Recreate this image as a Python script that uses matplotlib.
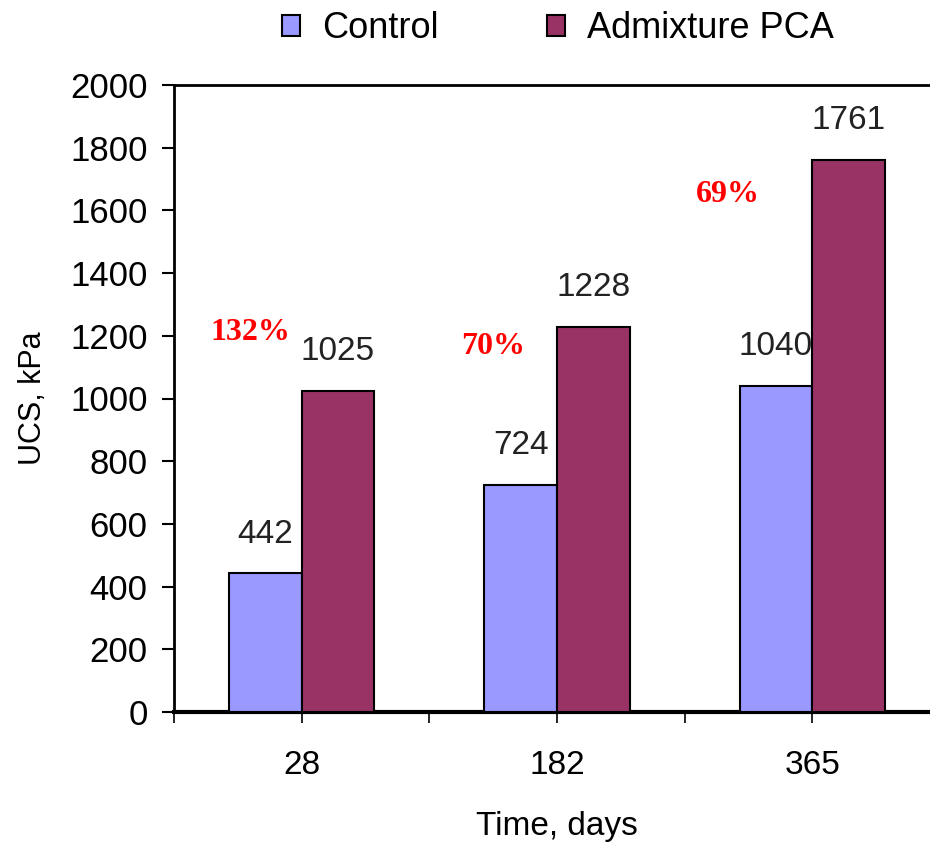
import numpy as np
import matplotlib.pyplot as plt
from matplotlib.patches import Patch

plt.rcParams['font.family'] = ['Liberation Sans', 'DejaVu Sans']

days = ["28", "182", "365"]
control = [442, 724, 1040]
admixture = [1025, 1228, 1761]
gains = ["132%", "70%", "69%"]
gain_pos = [(-0.2, 1212), (0.75, 1167), (1.67, 1652)]

ctrl_color = "#9999FF"
adm_color = "#993366"

fig = plt.figure(figsize=(9.3, 8.43), dpi=100)
ax = fig.add_axes([174 / 930, 1 - 712 / 843, (940 - 174) / 930, (712 - 85) / 843])

x = np.arange(len(days))
w = 0.285
b1 = ax.bar(x - w / 2, control, w, color=ctrl_color, edgecolor="black", linewidth=1.5, zorder=3)
b2 = ax.bar(x + w / 2, admixture, w, color=adm_color, edgecolor="black", linewidth=1.5, zorder=3)

for bars, vals in ((b1, control), (b2, admixture)):
    for rect, v in zip(bars, vals):
        ax.annotate(str(v), (rect.get_x() + rect.get_width() / 2, v),
                    xytext=(0, 17), textcoords="offset points",
                    ha="center", va="bottom", fontsize=24, color="#222222")

for txt, (gx, gy) in zip(gains, gain_pos):
    ax.text(gx, gy, txt, ha="center", va="center", color="red", fontsize=23,
            fontweight="bold", family=["Liberation Serif", "DejaVu Serif"])

ax.set_xlim(-0.5, 2.5)
ax.set_ylim(0, 2000)
ax.set_yticks(np.arange(0, 2001, 200))
ax.tick_params(axis="y", labelsize=25, length=9, width=1.5, pad=10, colors="black")
ax.set_xticks(x)
ax.set_xticklabels(days)
ax.set_xticks([-0.5, 0.5, 1.5, 2.5], minor=True)
ax.tick_params(axis="x", which="major", labelsize=24, length=8, width=1.2, pad=19)
ax.tick_params(axis="x", which="minor", length=8, width=1.2)

ax.spines["right"].set_visible(False)
ax.spines["left"].set_linewidth(2)
ax.spines["top"].set_linewidth(2)
ax.spines["bottom"].set_linewidth(3)

ax.set_xlabel("Time, days", fontsize=24, labelpad=22)
ax.set_ylabel("UCS, kPa", fontsize=22, labelpad=16)

handles = [Patch(facecolor=ctrl_color, edgecolor="black", linewidth=1.5),
           Patch(facecolor=adm_color, edgecolor="black", linewidth=1.5)]
fig.legend(handles, ["Control", "Admixture PCA"], loc="center", bbox_to_anchor=(0.6, 0.966),
           ncol=2, frameon=False, fontsize=26, handlelength=0.5, handleheight=0.5,
           handletextpad=0.6, columnspacing=3.0)

fig.savefig("out.png", dpi=100)
